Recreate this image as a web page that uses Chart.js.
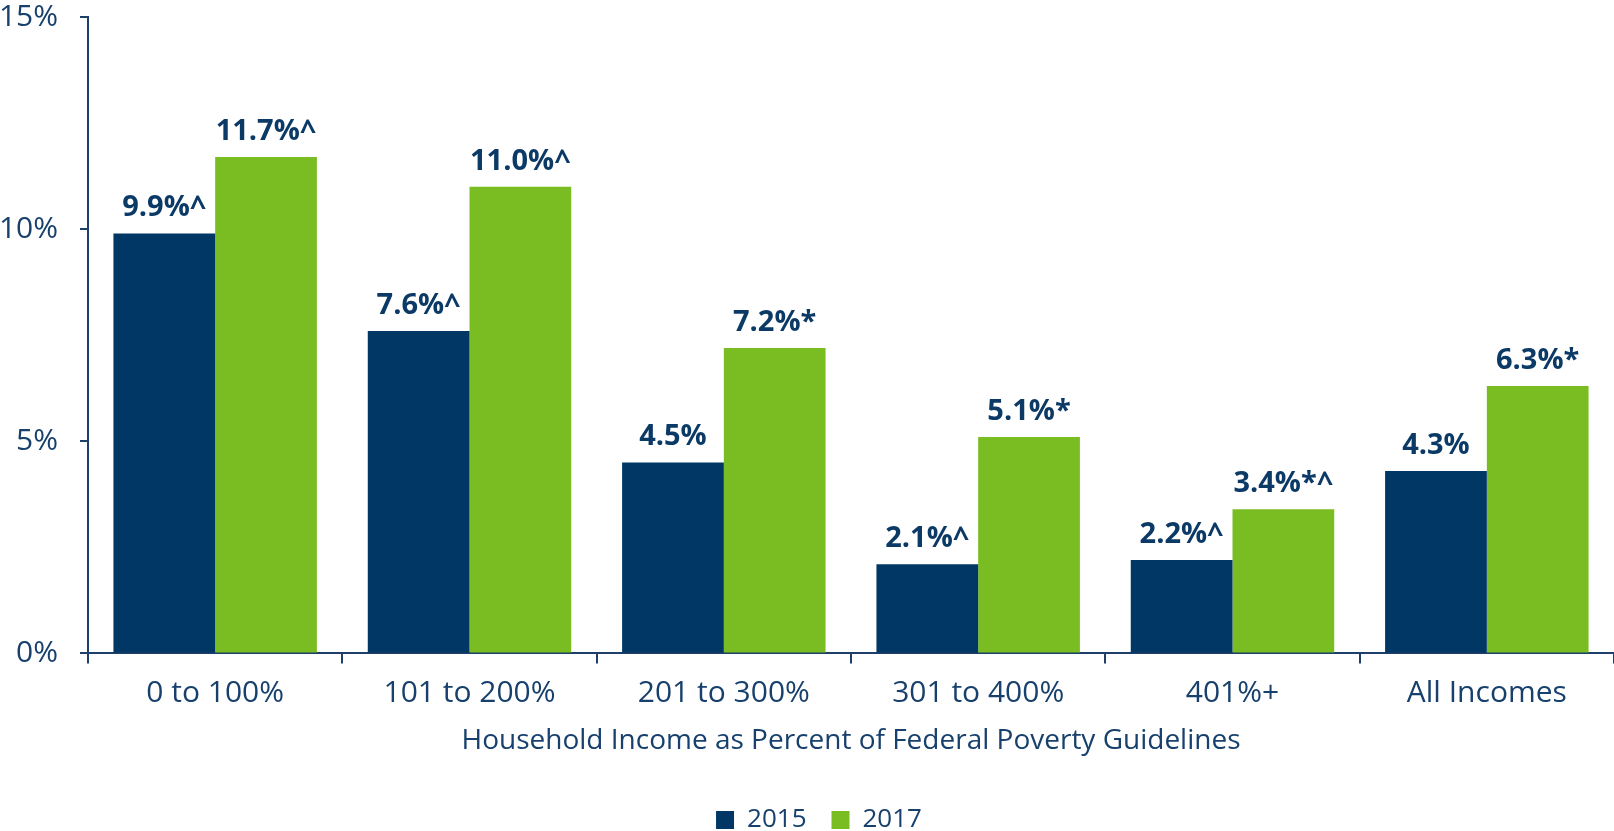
<!DOCTYPE html>
<html>
<head>
<meta charset="utf-8">
<title>Household Income as Percent of Federal Poverty Guidelines</title>
<script src="https://cdn.jsdelivr.net/npm/chart.js@4"></script>
<style>
  html, body { margin: 0; padding: 0; background: #fff; overflow: hidden; }
  #chartWrap { width: 1614px; height: 831px; }
</style>
</head>
<body>
<div id="chartWrap"><canvas id="incomeChart" width="1614" height="831"></canvas></div>
<script>
const incomeGroups = ["0 to 100%", "101 to 200%", "201 to 300%", "301 to 400%", "401%+", "All Incomes"];
const years = ["2015", "2017"];
const rates2015 = [9.9, 7.6, 4.5, 2.1, 2.2, 4.3];
const rates2017 = [11.7, 11.0, 7.2, 5.1, 3.4, 6.3];
// significance markers shown after each value
const marks2015 = ["^", "^", "", "^", "^", ""];
const marks2017 = ["^", "^", "*", "*", "*^", "*"];
const yTicks = [0, 5, 10, 15];
const xTitle = "Household Income as Percent of Federal Poverty Guidelines";

const NAVY = "#003764";
const GREEN = "#7abd22";
const AXIS_COLOR = "#1d3f69";
const TEXT_COLOR = "#17406d";
const LABEL_COLOR = "#0c3a66";

Chart.defaults.font.family = '"Open Sans", sans-serif';
Chart.defaults.color = TEXT_COLOR;

// draws "9.9%^" style labels above each bar
const valueLabels = {
    id: "valueLabels",
    afterDatasetsDraw(chart) {
        const ctx = chart.ctx;
        ctx.save();
        ctx.font = 'bold 29px "Open Sans", sans-serif';
        ctx.fillStyle = LABEL_COLOR;
        ctx.textAlign = "center";
        ctx.textBaseline = "alphabetic";
        chart.data.datasets.forEach((ds, i) => {
            chart.getDatasetMeta(i).data.forEach((bar, j) => {
                const text = ds.data[j].toFixed(1) + "%" + ds.marks[j];
                ctx.fillText(text, bar.x, bar.y - 17);
            });
        });
        ctx.restore();
    }
};

// legend sits a little right of the canvas centre, under the plot area
const legendNudge = {
    id: "legendNudge",
    afterLayout(chart) {
        chart.legend.left += 12;
        chart.legend.right += 12;
    }
};

const ctx = document.getElementById("incomeChart").getContext("2d");

new Chart(ctx, {
    type: "bar",
    data: {
        labels: incomeGroups,
        datasets: [
            { label: years[0], data: rates2015, marks: marks2015, backgroundColor: NAVY },
            { label: years[1], data: rates2017, marks: marks2017, backgroundColor: GREEN }
        ]
    },
    options: {
        responsive: false,
        animation: false,
        layout: { padding: { top: 17, right: 0, left: 0, bottom: -12 } },
        datasets: {
            bar: { categoryPercentage: 0.8, barPercentage: 1.0, borderWidth: 0 }
        },
        scales: {
            x: {
                grid: {
                    drawOnChartArea: false,
                    offset: true,
                    tickLength: 10,
                    color: AXIS_COLOR,
                    lineWidth: 2
                },
                border: { color: AXIS_COLOR, width: 2 },
                ticks: {
                    padding: 12,
                    color: TEXT_COLOR,
                    font: { size: 30 }
                },
                title: {
                    display: true,
                    text: xTitle,
                    color: TEXT_COLOR,
                    font: { size: 28 },
                    padding: { top: 1, bottom: 24 }
                }
            },
            y: {
                min: 0,
                max: 15,
                afterBuildTicks: (scale) => {
                    scale.ticks = yTicks.map(v => ({ value: v }));
                },
                afterFit: (scale) => {
                    scale.width = 88;
                    // top label may overhang; layout padding handles the gap
                    scale.paddingTop = 0;
                    scale.paddingBottom = 0;
                },
                grid: {
                    drawOnChartArea: false,
                    tickLength: 8,
                    color: AXIS_COLOR,
                    lineWidth: 2
                },
                border: { color: AXIS_COLOR, width: 2 },
                ticks: {
                    padding: 22,
                    color: TEXT_COLOR,
                    font: { size: 30 },
                    callback: (v) => v + "%"
                }
            }
        },
        plugins: {
            legend: {
                position: "bottom",
                labels: {
                    boxWidth: 18,
                    boxHeight: 18,
                    padding: 25,
                    color: TEXT_COLOR,
                    font: { size: 26 }
                }
            },
            tooltip: { enabled: false }
        }
    },
    plugins: [valueLabels, legendNudge]
});
</script>
</body>
</html>
